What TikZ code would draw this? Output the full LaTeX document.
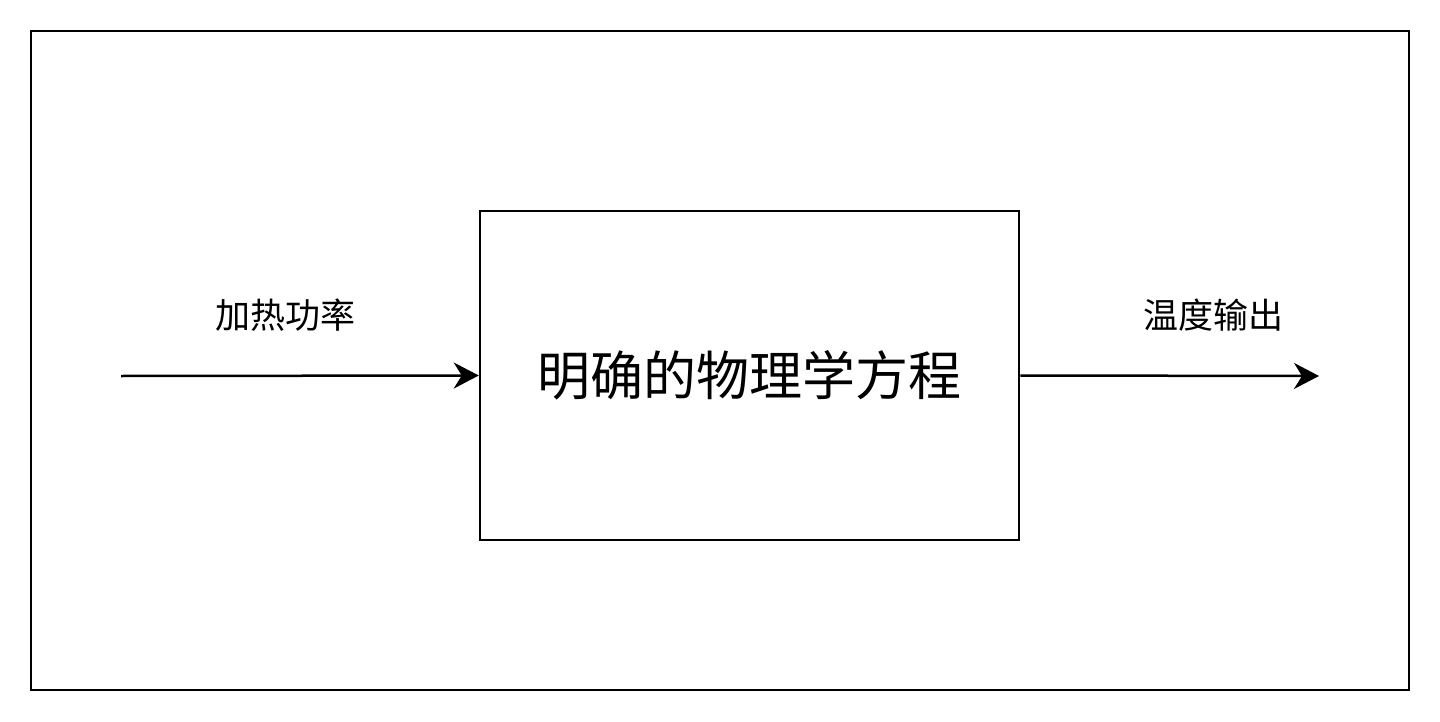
\documentclass[tikz,border=0pt]{standalone}
\usepackage{fontspec}
\setmainfont{Noto Sans CJK SC}
\usepackage{tikz}
\usetikzlibrary{arrows.meta, positioning}

\begin{document}
\begin{tikzpicture}[x=0.5pt, y=-0.5pt, line width=1.25pt]
  \tikzstyle{block}=[draw, minimum width=269.5pt, minimum height=164.5pt, inner sep=0pt, font=\fontsize{26.5}{30}\selectfont]
  \tikzstyle{signal}=[font=\fontsize{17.5}{20}\selectfont]
  \tikzstyle{flow}=[-{Stealth[length=12.5pt, width=13pt, inset=4pt]}]

  \useasboundingbox (0,0) rectangle (1440,722);
  \draw (31,31) rectangle (1409,690);

  \node[block]  (eq)    at (749.5,375.5) {明确的物理学方程};
  \coordinate   (in)    at (121,376);
  \coordinate   (out)   at (1319,376);
  \node[signal] (power) at (285,315) {加热功率};
  \node[signal] (temp)  at (1213,315) {温度输出};

  \draw[flow] (in) -- (eq.west);
  \draw[flow] (eq.east) -- (out);
\end{tikzpicture}
\end{document}
